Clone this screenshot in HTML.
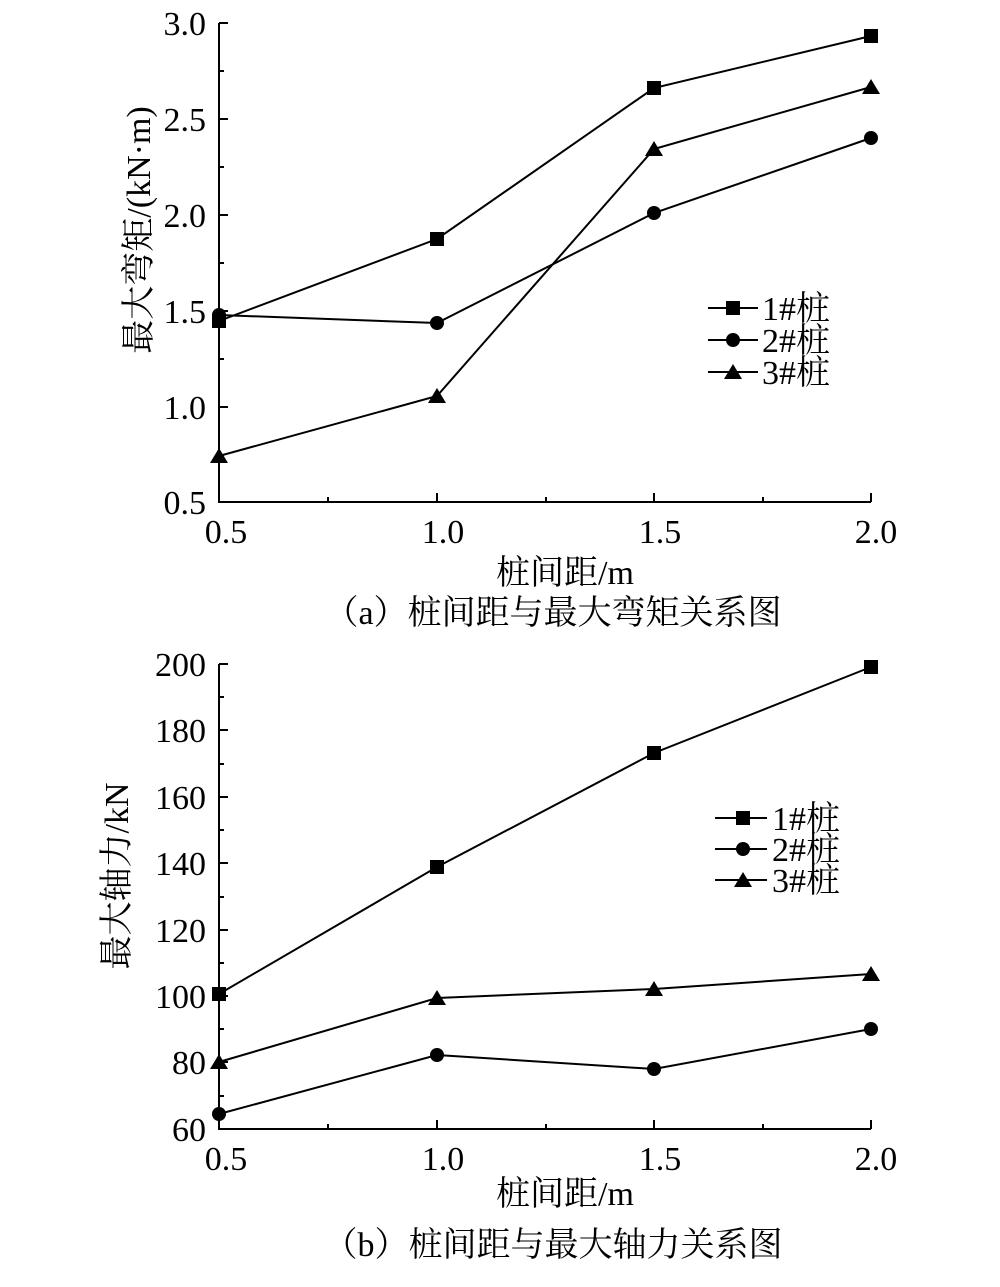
<!DOCTYPE html>
<html><head><meta charset="utf-8"><style>body{margin:0;background:#fff}svg{display:block}</style></head><body>
<svg width="1000" height="1287" viewBox="0 0 1000 1287" xmlns="http://www.w3.org/2000/svg" font-family="'Liberation Serif','Noto Serif CJK SC',serif" fill="#000">
<g stroke="#000" stroke-width="2" fill="none">
<path d="M219,23 V502 H871"/>
<path d="M219,23h9M219,119h9M219,215h9M219,311h9M219,407h9M219,502h9"/>
<path d="M219,71h5M219,167h5M219,263h5M219,359h5M219,455h5"/>
<path d="M437,502v-9M654,502v-9M871,502v-9M328,502v-5M546,502v-5M763,502v-5"/>
<polyline points="219,321 437,239 654,88 871,36"/>
<polyline points="219,315 437,323 654,213 871,138"/>
<polyline points="219,456 437,396 654,149 871,87"/>
<path d="M708,308h50M708,340h50M708,372h50"/>
<path d="M219,664 V1129 H871"/>
<path d="M219,664h9M219,730h9M219,797h9M219,863h9M219,930h9M219,996h9M219,1062h9M219,1129h9"/>
<path d="M219,697h5M219,764h5M219,830h5M219,897h5M219,963h5M219,1029h5M219,1096h5"/>
<path d="M437,1129v-9M654,1129v-9M871,1129v-9M328,1129v-5M546,1129v-5M763,1129v-5"/>
<polyline points="219,994 437,867 654,753 871,667"/>
<polyline points="219,1114 437,1055 654,1069 871,1029"/>
<polyline points="219,1062 437,998 654,989 871,974"/>
<path d="M715,818h52M715,849h52M715,880h52"/>
</g>
<g>
<rect x="212" y="314" width="14" height="14"/><rect x="430" y="232" width="14" height="14"/><rect x="647" y="81" width="14" height="14"/><rect x="864" y="29" width="14" height="14"/>
<circle cx="219" cy="315" r="7"/><circle cx="437" cy="323" r="7"/><circle cx="654" cy="213" r="7"/><circle cx="871" cy="138" r="7"/>
<path d="M219,448l9,15h-18z M437,388l9,15h-18z M654,141l9,15h-18z M871,79l9,15h-18z"/>
<rect x="726" y="301" width="14" height="14"/><circle cx="733" cy="340" r="7"/><path d="M733,364l9,15h-18z"/>
<rect x="212" y="987" width="14" height="14"/><rect x="430" y="860" width="14" height="14"/><rect x="647" y="746" width="14" height="14"/><rect x="864" y="660" width="14" height="14"/>
<circle cx="219" cy="1114" r="7"/><circle cx="437" cy="1055" r="7"/><circle cx="654" cy="1069" r="7"/><circle cx="871" cy="1029" r="7"/>
<path d="M219,1054l9,15h-18z M437,990l9,15h-18z M654,981l9,15h-18z M871,966l9,15h-18z"/>
<rect x="736" y="811" width="14" height="14"/><circle cx="743" cy="849" r="7"/><path d="M743,872l9,15h-18z"/>
</g>
<g font-size="34" text-anchor="end">
<text x="206" y="35">3.0</text><text x="206" y="131">2.5</text><text x="206" y="227">2.0</text><text x="206" y="323">1.5</text><text x="206" y="419">1.0</text><text x="206" y="514">0.5</text>
<text x="206" y="676">200</text><text x="206" y="742">180</text><text x="206" y="809">160</text><text x="206" y="875">140</text><text x="206" y="942">120</text><text x="206" y="1008">100</text><text x="206" y="1074">80</text><text x="206" y="1141">60</text>
</g>
<g font-size="34" text-anchor="middle">
<text x="226" y="543">0.5</text><text x="443" y="543">1.0</text><text x="660" y="543">1.5</text><text x="876" y="543">2.0</text>
<text x="226" y="1170">0.5</text><text x="443" y="1170">1.0</text><text x="660" y="1170">1.5</text><text x="876" y="1170">2.0</text>
<text x="565" y="584">桩间距/m</text>
<text x="553" y="624">（a）桩间距与最大弯矩关系图</text>
<text x="565" y="1205">桩间距/m</text>
<text x="553" y="1256">（b）桩间距与最大轴力关系图</text>
<text transform="translate(150,230) rotate(-90)">最大弯矩/(kN·m)</text>
<text transform="translate(128,876) rotate(-90)">最大轴力/kN</text>
</g>
<g font-size="34">
<text x="762" y="320">1#桩</text><text x="762" y="352">2#桩</text><text x="762" y="384">3#桩</text>
<text x="772" y="830">1#桩</text><text x="772" y="861">2#桩</text><text x="772" y="892">3#桩</text>
</g>
</svg>
</body></html>
